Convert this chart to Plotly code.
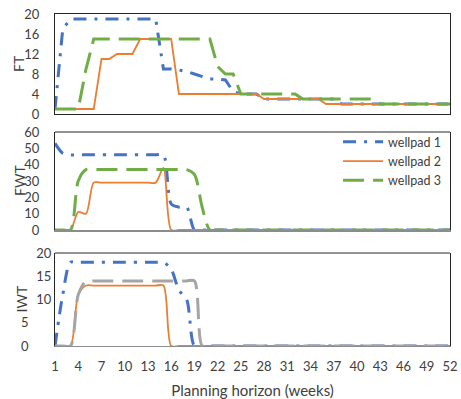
import plotly.graph_objects as go

weeks = list(range(1, 53))
tick_weeks = list(range(1, 53, 3))

# FT panel
ft_wellpad1 = [1, 17] + [19]*12 + [9, 9, 8.8, 8.5, 8, 7.5, 7, 7, 6.8, 4.5] + [4]*3 + [3]*10 + [2]*15
ft_wellpad2 = [1]*6 + [11, 11, 12, 12, 12] + [15]*5 + [4]*11 + [3]*8 + [2]*17
ft_wellpad3 = [1]*4 + [9] + [15]*16 + [9.5, 8, 8] + [4]*8 + [3]*10 + [2]*10

# FWT panel
fwt_wellpad1 = [53, 47] + [46]*13 + [16, 14, 14] + [0]*34
fwt_wellpad2 = [0]*3 + [11, 10] + [29]*9 + [38] + [0]*37
fwt_wellpad3 = [0]*3 + [30] + [37]*14 + [34, 14] + [0]*32

# IWT panel
iwt_wellpad1 = [0, 11] + [18]*13 + [16.5, 12, 10] + [0]*34
iwt_wellpad2 = [0]*3 + [11] + [13]*11 + [0]*37
iwt_wellpad3 = [0]*3 + [11] + [14]*15 + [0]*33

series_names = ["wellpad 1", "wellpad 2", "wellpad 3"]
panel_titles = ["FT", "FWT", "IWT"]
ft_ticks = [0, 4, 8, 12, 16, 20]
fwt_ticks = [0, 10, 20, 30, 40, 50, 60]
iwt_ticks = [0, 5, 10, 15, 20]
iwt_ticktext = ["0\u2002\u2002\u2002\u00a0", "5\u2002\u2002\u2002\u00a0", "10", "15", "20"]

BLUE = "#4472C4"
ORANGE = "#ED7D31"
GREEN = "#70AD47"
GRAY = "#A5A5A5"
DASHDOT = "13px,8px,3px,8px"
LONGDASH = "21px,9px"
FONT = "Lato, 'Open Sans', sans-serif"
TXT = "#404040"
FRAME = "#262626"
AXGRAY = "#8c8c8c"

fig = go.Figure()

def add(y, name, color, dash, width, xa, ya, shape, legend):
    fig.add_trace(go.Scatter(
        x=weeks, y=y, name=name, mode="lines",
        line=dict(color=color, dash=dash, width=width, shape=shape,
                  smoothing=0.8 if shape == "spline" else None),
        xaxis=xa, yaxis=ya, showlegend=legend, hoverinfo="skip"))

# top panel (FT) - straight lines
add(ft_wellpad1, series_names[0], BLUE, DASHDOT, 3, "x", "y", "linear", False)
add(ft_wellpad2, series_names[1], ORANGE, "solid", 1.8, "x", "y", "linear", False)
add(ft_wellpad3, series_names[2], GREEN, LONGDASH, 3, "x", "y", "linear", False)
# middle panel (FWT)
add(fwt_wellpad1, series_names[0], BLUE, DASHDOT, 3, "x2", "y2", "spline", True)
add(fwt_wellpad2, series_names[1], ORANGE, "solid", 1.8, "x2", "y2", "spline", True)
add(fwt_wellpad3, series_names[2], GREEN, LONGDASH, 3, "x2", "y2", "spline", True)
# bottom panel (IWT)
add(iwt_wellpad1, series_names[0], BLUE, DASHDOT, 3, "x3", "y3", "spline", False)
add(iwt_wellpad2, series_names[1], ORANGE, "solid", 1.8, "x3", "y3", "spline", False)
add(iwt_wellpad3, series_names[2], GRAY, LONGDASH, 3, "x3", "y3", "spline", False)

# body margin is removed by the post script, so the figure fills the window
W, H = 461, 399
ml, mt = 55, 14
mr = W - 450
mb = H - 346
ph = H - mt - mb
pw = W - ml - mr

def dom(top_px, bot_px):
    # window pixel rows -> paper domain
    return [(H - mb - bot_px) / ph, (H - mb - top_px) / ph]

d_top = dom(14, 114)
d_mid = dom(132, 230)
d_bot = dom(253, 346)

tickfont = dict(family=FONT, size=13, color=TXT)
titlefont = dict(family=FONT, size=14, color=TXT)

xcommon = dict(range=[1, 52], domain=[0, 1], showgrid=False, zeroline=False,
               tickvals=tick_weeks, fixedrange=True, automargin=False)

# label axes: transparent outside ticks push the labels away from the frame
ylab = dict(showgrid=False, zeroline=False, showline=True, mirror=True,
            linecolor=FRAME, linewidth=1, automargin=False,
            tickcolor="rgba(0,0,0,0)", tickfont=tickfont, ticklabeloverflow="allow")
# overlay axes: draw the small inside tick marks
ymark = dict(showgrid=False, zeroline=False, showline=False, ticks="inside",
             ticklen=3, tickcolor=FRAME, showticklabels=False, automargin=False)

title_x = (19 - ml) / pw
annotations = []
for txt, d, xoff in zip(panel_titles, [d_top, d_mid, d_bot], [0, 0, 2 / pw]):
    annotations.append(dict(text=txt, xref="paper", yref="paper", x=title_x + xoff,
                            y=(d[0] + d[1]) / 2, xanchor="center", yanchor="middle",
                            textangle=-90, showarrow=False, font=titlefont))

fig.update_layout(
    width=W, height=H,
    margin=dict(l=ml, r=mr, t=mt, b=mb),
    paper_bgcolor="white", plot_bgcolor="white",
    font=dict(family=FONT, color=TXT),
    xaxis=dict(**xcommon, anchor="y", showticklabels=False, showline=True,
               mirror=True, linecolor=FRAME, ticks=""),
    xaxis2=dict(**xcommon, anchor="y2", showticklabels=False, showline=True,
                mirror=False, linecolor=AXGRAY, linewidth=2, ticks=""),
    xaxis3=dict(**xcommon, anchor="y3", showticklabels=True, showline=True,
                mirror=False, linecolor=AXGRAY, linewidth=1, ticks="outside",
                ticklen=8, tickcolor="rgba(0,0,0,0)", tickfont=tickfont,
                ticklabeloverflow="allow",
                title=dict(text="Planning horizon (weeks)",
                           font=dict(family=FONT, size=15, color=TXT), standoff=13)),
    xaxis4=dict(**xcommon, anchor="y3", overlaying="x3", showticklabels=False,
                showline=False, ticks="inside", ticklen=4, tickcolor=AXGRAY),
    yaxis=dict(**ylab, domain=d_top, range=[0, 20], tickvals=ft_ticks,
               ticks="outside", ticklen=12),
    yaxis2=dict(**ylab, domain=d_mid, range=[0, 60], tickvals=fwt_ticks,
                ticks="outside", ticklen=12),
    yaxis3=dict(**ylab, domain=d_bot, range=[0, 20], tickvals=iwt_ticks,
                ticktext=iwt_ticktext, ticks=""),
    yaxis4=dict(**ymark, domain=d_top, range=[0, 20], tickvals=ft_ticks,
                overlaying="y", anchor="x"),
    yaxis5=dict(**ymark, domain=d_mid, range=[0, 60], tickvals=fwt_ticks,
                overlaying="y2", anchor="x2"),
    yaxis6=dict(**ymark, domain=d_bot, range=[0, 20], tickvals=iwt_ticks,
                overlaying="y3", anchor="x3"),
    legend=dict(x=0.99, xanchor="right", y=0.659, yanchor="top",
                bgcolor="rgba(0,0,0,0)", font=dict(family=FONT, size=12.5, color=TXT),
                tracegroupgap=0, itemwidth=40),
    annotations=annotations,
    shapes=[
        dict(type="line", xref="x2 domain", yref="y2 domain", x0=0, x1=1, y0=1, y1=1,
             line=dict(color=FRAME, width=1)),
        dict(type="line", xref="x3 domain", yref="y3 domain", x0=0, x1=1, y0=1, y1=1,
             line=dict(color=FRAME, width=1)),
    ],
)

fig.write_html("out.html", config={"displayModeBar": False},
               post_script="document.body.style.margin='0px';")
